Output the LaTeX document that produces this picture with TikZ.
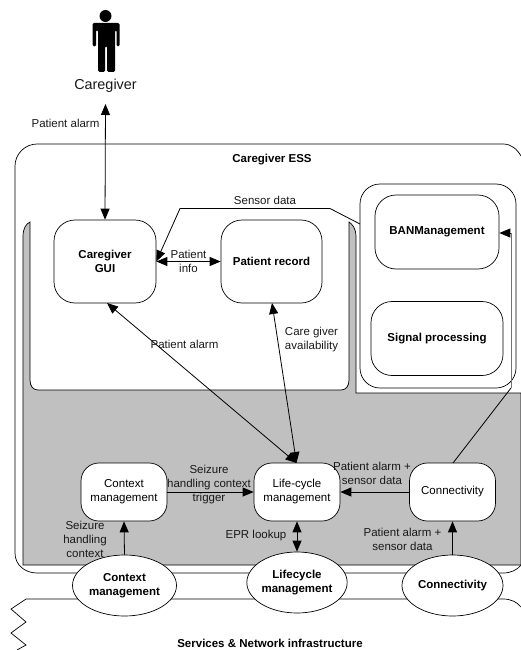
\documentclass[tikz,border=0pt]{standalone}
\usepackage{fontspec}
\setmainfont{Liberation Sans}
\usetikzlibrary{arrows.meta,shapes.geometric}
\definecolor{grayfill}{RGB}{192,192,192}
\tikzset{
  x=1pt,y=-1pt,
  lbl/.style={font=\fontsize{11.5}{14}\selectfont,align=center,inner sep=0pt,text=black!90},
  rbox/.style={draw=black,fill=white,rounded corners=21pt,line width=0.7pt,font=\fontsize{11.5}{14}\selectfont\bfseries,align=center,inner sep=0pt,minimum width=#1,minimum height=83pt},
  sbox/.style={draw=black,fill=white,rounded corners=18pt,line width=0.7pt,font=\fontsize{11.5}{14}\selectfont,align=center,inner sep=0pt,minimum width=86pt,minimum height=58pt},
  ell/.style={ellipse,draw=black,fill=white,line width=0.7pt,font=\fontsize{11.5}{14}\selectfont\bfseries,align=center,inner sep=0pt,minimum width=#1,minimum height=61pt},
  conn/.style={draw=black,line width=0.8pt},
  tip/.style={-{Triangle[length=11pt,width=9pt]}},
  dtip/.style={{Triangle[length=11pt,width=9pt]}-{Triangle[length=11pt,width=9pt]}},
}
\begin{document}
\begin{tikzpicture}
\useasboundingbox (0,0) rectangle (521,650);
\path[clip] (0,0) rectangle (521,650);
% outer box
\draw[line width=0.7pt] (521,156) .. controls (517,149) and (511,144) .. (503,144) -- (37,144)
  .. controls (25,144) and (15,154) .. (15,166) -- (15,553)
  .. controls (15,565) and (25,573) .. (37,573) -- (503,573)
  .. controls (511,573) and (517,570) .. (521,565);
% grey region
\draw[line width=0.7pt,fill=grayfill]
  (521,393) -- (356,393) -- (356,237) .. controls (356,228) and (352,224) .. (349,222)
  -- (349,380) .. controls (349,386) and (346,390) .. (341,390) -- (38,390)
  .. controls (33,390) and (30,386) .. (30,380) -- (30,222)
  .. controls (26,224) and (23,228) .. (23,237) -- (23,565) -- (521,565) -- cycle;
% services
\draw[line width=0.7pt] (17,650) -- (26,645) -- (11,633) -- (26,622) -- (11,609) -- (26,599) -- (503,599)
  .. controls (511,599) and (517,602) .. (521,607);
% BAN container
\draw[line width=0.7pt,rounded corners=20pt,fill=white] (360,184) rectangle (516,388);
\node[rbox=124pt,minimum height=74pt] (ban) at (437,232) {BANManagement};
\node[rbox=132pt,minimum height=74pt] (sig) at (437,338.5) {Signal processing};
% main boxes
\node[rbox=102pt] (gui) at (105,261.5) {Caregiver\\GUI};
\node[rbox=101pt] (rec) at (271.5,261.5) {Patient record};
\node[sbox] (ctx) at (124,492) {Context\\management};
\node[sbox] (lcm) at (297,492) {Life-cycle\\management};
\node[sbox] (con) at (452.5,492) {Connectivity};
% ellipses
\node[ell=104pt] (ectx) at (124.5,585.5) {Context\\management};
\node[ell=100pt] (elcm) at (297,582.5) {Lifecycle\\management};
\node[ell=101pt] (econ) at (452.5,585.5) {Connectivity};
% person
\coordinate (cgtop) at (105.5,16);
\fill[black] (cgtop) circle (6pt);
\fill[black,rounded corners=1.5pt] (92.5,23) -- (119.5,23) -- (119.5,46.5) -- (116.5,46.5) -- (116.5,30) -- (115,30) -- (115,72) -- (107,72) -- (107,46) -- (105,46) -- (105,72) -- (98,72) -- (98,30) -- (96,30) -- (96,46.5) -- (92.5,46.5) -- cycle;
\node[font=\fontsize{14.4}{16}\selectfont,inner sep=0pt,text=black!90] (cg) at (105.5,86) {Caregiver};
% titles
\node[lbl,font=\fontsize{11.5}{14}\selectfont\bfseries,text=black] (t1) at (272,159.5) {Caregiver ESS};
\node[lbl,font=\fontsize{11.5}{14}\selectfont\bfseries,text=black] (t2) at (270,643) {Services \& Network infrastructure};
% connectors
\coordinate (cgb) at (105.5,104);
\draw[conn,dtip] (cgb) -- (gui.north);
\coordinate (s1) at (180,208.5);
\coordinate (s2) at (330,208.5);
\coordinate (s3) at (360,224);
\draw[conn,tip] (s3) -- (s2) -- (s1) -- (gui.east);
\draw[conn,dtip] (gui.east) -- (rec.west);
\coordinate (gb) at (107,303);
\coordinate (lt) at (296.5,463);
\draw[conn,dtip] (gb) -- (lt);
\coordinate (rb) at (272,303);
\draw[conn,dtip] (rb) -- (lt);
\draw[conn,tip] (ctx.east) -- (lcm.west);
\draw[conn,tip] (con.west) -- (lcm.east);
\draw[conn,tip] (ectx.north) -- (ctx.south);
\draw[conn,dtip] (elcm.north) -- (lcm.south);
\draw[conn,tip] (econ.north) -- (con.south);
\coordinate (b1) at (453,463);
\coordinate (b2) at (511,388);
\coordinate (b3) at (511,233);
\draw[conn] (b1) -- (b2);
\draw[draw=black!55,line width=1pt] (b2) -- (b3);
\draw[conn,tip] (b3) -- (ban.east |- b3);
% labels
\node[lbl] (l1) at (65.5,123) {Patient alarm};
\node[lbl] (l2) at (265,200) {Sensor data};
\node[lbl] (l3) at (188.5,261) {Patient\\info};
\node[lbl] (l4) at (184.5,344) {Patient alarm};
\node[lbl] (l5) at (311.5,340) {Care giver\\availability};
\node[lbl] (l6) at (209,485) {Seizure\\handling context\\trigger};
\node[lbl] (l7) at (85,539) {Seizure\\handling\\context};
\node[lbl] (l8) at (256,536) {EPR lookup};
\node[lbl] (l9) at (372,473) {Patient alarm +\\sensor data};
\node[lbl] (l10) at (402.5,539) {Patient alarm +\\sensor data};
\end{tikzpicture}
\end{document}
